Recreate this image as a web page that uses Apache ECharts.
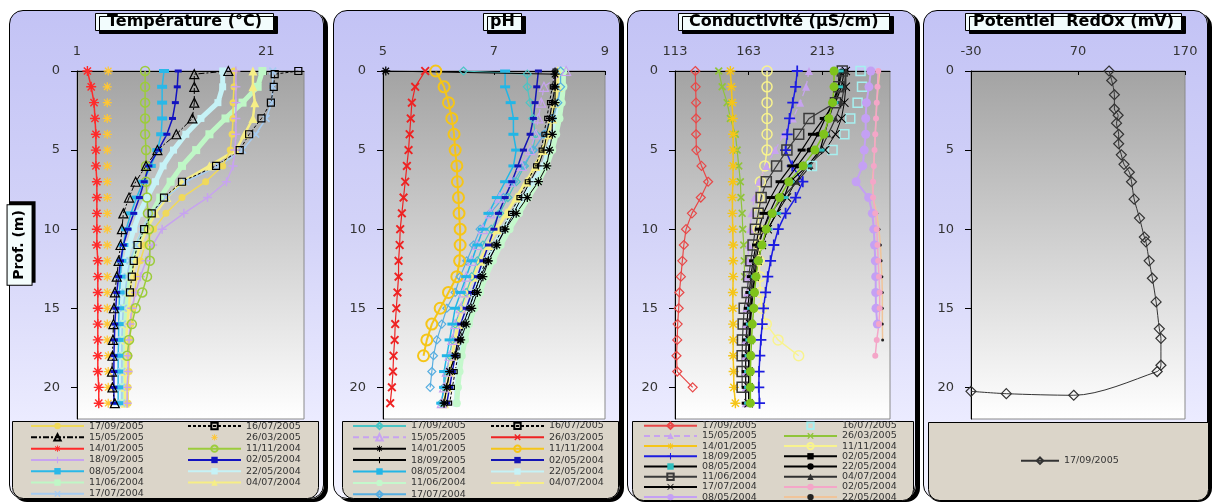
<!DOCTYPE html>
<html>
<head>
<meta charset="utf-8">
<script src="https://cdn.jsdelivr.net/npm/echarts@6/dist/echarts.min.js"></script>
<style>
body { margin: 0; width: 1213px; height: 504px; background: #fff; position: relative; overflow: hidden; }
.panel { position: absolute; top: 10px; height: 489px; box-sizing: border-box; border: 1px solid #000; border-radius: 14px;
  box-shadow: 4px 3px 0 #000; background: linear-gradient(180deg, #c3c3f5 0%, #d3d3f8 45%, #ececff 85%, #f3f3ff 100%); }
.chart { position: absolute; top: 0; height: 504px; }
</style>
</head>
<body>
<div class="panel" style="left:9px;width:315px"></div>
<div class="panel" style="left:333px;width:287px"></div>
<div class="panel" style="left:627px;width:289px"></div>
<div class="panel" style="left:923px;width:285px"></div>
<div id="c1" class="chart" style="left:0;width:330px"></div>
<div id="c2" class="chart" style="left:330px;width:295px"></div>
<div id="c3" class="chart" style="left:625px;width:295px"></div>
<div id="c4" class="chart" style="left:920px;width:293px"></div>
<script>
// depth grids (m)
var depths = [0,1,2,3,4,5,6,7,8,9,10,11,12,13,14,15,16,17,18,19,20,21];
var depthsSurf = [0,0.2,1,2,3,4,5,6,7,8,9,10,11,12,13,14,15,16,17,18,19,20,21];

// température (°C)
var t17092005 = [17.6,17.6,17.5,17.5,17.4,17.2,16.4,14.6,12.1,10.4,9.1,8.2,7.7,7.3,7.1,6.9,6.7,6.6,6.5,6.5,6.4,6.4];
var t16072005 = [24.4,21.9,21.8,21.5,20.5,19.2,18.2,15.7,12.1,10.2,8.9,8.1,7.4,7.0,6.8,6.6];
var t15052005 = [17.0,13.4,13.4,13.4,13.2,11.5,9.5,8.3,7.2,6.5,5.9,5.75,5.6,5.4,5.2,5.0,4.9,4.85,4.8,4.75,4.7,4.75,5.0];
var t26032005 = [4.3,4.2,4.2,4.2,4.2,4.2,4.2,4.2,4.2,4.2,4.2,4.2,4.2,4.2,4.2,4.2,4.2,4.2,4.3,4.3,4.3,4.3];
var t14012005 = [2.1,2.5,2.8,2.9,3.0,3.0,3.0,3.1,3.1,3.1,3.1,3.1,3.2,3.2,3.2,3.2,3.2,3.2,3.2,3.2,3.3,3.3];
var t11112004 = [8.2,8.2,8.2,8.2,8.2,8.3,8.3,8.3,8.4,8.5,8.6,8.7,8.7,8.4,7.9,7.2,6.8,6.5,6.3];
var t18092005 = [17.8,17.8,17.8,17.8,17.8,17.7,17.5,16.8,14.8,12.3,10.0,9.0,8.3,7.7,7.2,6.8,6.6,6.5,6.4,6.4,6.3,6.3];
var t02052004 = [11.7,11.6,11.4,11.1,10.5,9.6,8.6,8.1,7.6,7.0,6.4,5.9,5.6,5.4,5.2,5.1,5.0,4.95,4.9,4.9,4.9,4.9];
var t08052004 = [10.2,10.0,10.0,10.0,9.9,9.5,8.8,8.0,7.3,6.7,6.2,5.9,5.7,5.6,5.5,5.45,5.4,5.4,5.35,5.35,5.35,5.35];
var t22052004 = [16.4,16.4,15.9,14.1,12.5,11.2,10.1,9.3,8.4,7.6,7.0,6.5,6.2,6.0,5.9,5.8,5.8,5.75,5.75,5.75,5.75,5.75];
var t11062004 = [20.6,20.1,18.5,16.7,15.0,13.6,12.1,10.9,9.8,8.9,8.1,7.3,6.8,6.5,6.3,6.1,6.0,6.0,6.0,6.0,6.0,6.0];
var t04072004 = [19.6,19.6,19.8,19.6,18.7,17.8,15.0,12.1,10.5,9.3,8.4,7.7,7.2,6.8,6.6,6.5,6.3,6.2,6.2,6.1,6.1,6.1];
var t17072004 = [21.7,21.7,21.6,21.0,19.9,18.5,16.0,12.5,10.4,8.9,7.9,7.2,6.6,6.3,6.1,5.9,5.8,5.75,5.75,5.75,5.75,5.75];

// pH
var p17092005 = [6.45,7.6,7.6,7.65,7.7,7.75,7.7,7.55,7.4,7.25,7.1,6.95,6.8,6.7,6.6,6.5,6.4,6.3,6.25,6.2,6.15,6.1,6.05];
var p16072005 = [8.1,8.05,8.0,7.95,7.9,7.85,7.75,7.6,7.45,7.3,7.15,7.0,6.85,6.75,6.65,6.55,6.45,6.4,6.35,6.3,6.25,6.2];
var p15052005 = [8.3,7.9,7.85,7.8,7.75,7.65,7.5,7.3,7.1,6.93,6.8,6.7,6.6,6.5,6.45,6.4,6.3,6.25,6.2,6.15,6.1,6.06];
var p26032005 = [5.76,5.58,5.52,5.50,5.48,5.46,5.43,5.40,5.37,5.34,5.31,5.30,5.28,5.28,5.26,5.24,5.22,5.21,5.19,5.18,5.16,5.13];
var p14012005 = [5.05,8.1,8.1,8.1,8.05,8.05,8.0,7.95,7.8,7.6,7.4,7.2,7.05,6.9,6.8,6.7,6.6,6.5,6.4,6.3,6.2,6.15,6.1];
var p11112004 = [5.95,6.1,6.18,6.24,6.28,6.3,6.33,6.34,6.36,6.37,6.39,6.39,6.38,6.33,6.18,6.03,5.88,5.79,5.73];
var p18092005 = [8.1,8.1,8.05,8.0,7.95,7.9,7.8,7.65,7.5,7.35,7.2,7.05,6.9,6.75,6.65,6.55,6.45,6.35,6.3,6.2,6.15,6.1];
var p02052004 = [7.8,7.77,7.74,7.71,7.65,7.53,7.43,7.32,7.2,7.08,7.0,6.9,6.8,6.7,6.6,6.5,6.4,6.35,6.3,6.25,6.2,6.15];
var p08052004 = [7.2,7.2,7.3,7.35,7.35,7.4,7.35,7.2,7.05,6.9,6.8,6.7,6.6,6.5,6.4,6.3,6.25,6.2,6.15,6.1,6.1,6.05];
var p22052004 = [8.2,8.22,8.2,8.13,8.07,7.98,7.9,7.71,7.53,7.35,7.17,7.02,6.87,6.75,6.66,6.57,6.48,6.42,6.39,6.36,6.33,6.32];
var p11062004 = [8.25,8.25,8.22,8.18,8.12,8.05,7.95,7.8,7.62,7.45,7.28,7.12,6.98,6.85,6.75,6.65,6.55,6.48,6.42,6.38,6.35,6.33];
var p04072004 = [8.15,8.15,8.1,8.05,7.98,7.88,7.75,7.58,7.4,7.22,7.05,6.9,6.75,6.62,6.5,6.42,6.35,6.3,6.25,6.2,6.15,6.1];
var p17072004 = [8.2,8.2,8.15,8.05,7.9,7.71,7.53,7.35,7.17,6.93,6.75,6.63,6.51,6.39,6.3,6.15,6.06,5.97,5.91,5.88,5.85];

// conductivité (µS/cm)
var c17092005 = [126.8,127,127.3,127.3,127.3,127.5,131,135.5,130.5,124.5,120.5,119,118,117,116,115.5,114.8,114.5,114,114.5,125];
var c16072005 = [239,240,237,232,228,220,206];
var c15052005 = [204,202,198,193,187,181,175,170,167,165,164,163,162.5,162,162,161.5,161.5,161,161,161,161,161];
var c26032005 = [142.7,145,148.4,150.6,154,155.2,156.3,157.4,157.8,158.6,159,159.7,160,160.3];
var c14012005 = [150.6,151.3,151.8,152.2,152.5,152.5,152.5,152.3,152,152,152.2,152.5,152.5,152.5,152.3,152.3,152.5,152.5,152.5,152.8,153,154];
var c11112004 = [175.5,175.5,175.5,175.5,175.5,175.5,174,171,170,169.5,169.5,170,170,170.5,171,172,175,183,197];
var c18092005 = [196,194.9,193,190.8,189.2,188.1,192.6,199.8,194.9,188.1,183.1,180.1,177.9,176,174.5,173.1,172.2,171.3,170.6,170.1,169.9,170.4];
var c02052004 = [228,226,222,214,206,199,192,184,178,173,170,168,166,164.5,163.5,162.5,162,161.5,161,161,161,161];
var c08052004 = [224.5,224,221,217.5,214.5,211.5,203,191,187,182,176,172,169.5,167.5,166,165,164.2,163.8,163.3,163,163,163];
var c22052004 = [226,224,220,215,210,204,196,188,182,177,173,170,168,166.5,165.5,164.5,164,163.5,163,163,163,163];
var c11062004 = [226.6,224.3,222,204,197,189,182,175,171.5,169.5,167.6,166,164.5,163,162,160,159.3,158.8,158.6,158.6,158.6];
var c04072004 = [229,228,226,222,217,212,205,196,186,178,173,169,167,165.5,164.5,164,163.5,163,163,163,163,163];
var c17072004 = [229,229,228,226,222,215,203,195,189,182,176,172,169,167,165.5,164.5,164,163.5,163.2,163,163,163];
var c26032005b = [221,221,220,217.5,214,208,200,190.3,184,179,175,172,169.5,168,167,166.5,165.5,165,164.5,164.2,164.2,164.2];
var c02052004b = [251,250.5,250,249.5,249,248.5,248,247.5,247.5,249,250,250.5,251,251.5,252,252,251.5,250,249];
var c08052004b = [246,244.7,243,242.5,242.5,241.5,240.5,236,244.5,247,248,248.5,249,249.3,249.3,249.5,250.4];
var c22052004b = [252,251,250,249.5,249,248.5,248,247,247.5,250,251.5,252.5,253,253.5,253.8,253.8,253.8,254];

// potentiel redox (mV)
var redoxDepth = [0,0.6,1.5,2.4,2.8,3.3,4.0,4.6,5.3,5.9,6.4,7.0,8.1,9.3,10.5,10.8,12.0,13.1,14.6,16.3,16.9,18.6,19.0,20.5,20.4,20.25];
var redoxMv = [99,101.5,104,104,107.5,106,108,108,110.5,113,118,120,122.5,127.5,132,133.5,136.5,139.5,143,146,147.5,147.5,144,66,3,-30];

// axis ticks
var depthTicks = [0,5,10,15,20];
var tempTicks = [1,21];
var phTicks = [5,7,9];
var condTicks = [113,163,213];
var redoxTicks = [-30,70,170];

// legend columns (Excel fills rows left to right)
var legCol1 = ['17/09/2005','15/05/2005','14/01/2005','18/09/2005','08/05/2004','11/06/2004','17/07/2004'];
var legCol2 = ['16/07/2005','26/03/2005','11/11/2004','02/05/2004','22/05/2004','04/07/2004'];
var condCol1 = legCol1.concat(['08/05/2004 ']);
var condCol2 = legCol2.concat(['02/05/2004 ', '22/05/2004 ']);

var SYM_X = 'path://M0,1.5L1.5,0L5,3.5L8.5,0L10,1.5L6.5,5L10,8.5L8.5,10L5,6.5L1.5,10L0,8.5L3.5,5Z';
var SYM_XT = 'path://M0,0.8L0.8,0L5,4.2L9.2,0L10,0.8L5.8,5L10,9.2L9.2,10L5,5.8L0.8,10L0,9.2L4.2,5Z';
var SYM_PLUS = 'path://M4.2,0H5.8V4.2H10V5.8H5.8V10H4.2V5.8H0V4.2H4.2Z';
var SYM_STAR = 'path://M4.3,0H5.7V3.3L8.1,0.9L9.1,1.9L6.7,4.3H10V5.7H6.7L9.1,8.1L8.1,9.1L5.7,6.7V10H4.3V6.7L1.9,9.1L0.9,8.1L3.3,5.7H0V4.3H3.3L0.9,1.9L1.9,0.9L4.3,3.3Z';

var FONT = 'DejaVu Sans';

function prof(ds, vs) {
    return vs.map(function (v, i) { return [v, ds[i]]; });
}

// one depth profile as an ECharts line series
function ser(name, ds, vs, s) {
    return {
        type: 'line', name: name, data: prof(ds, vs),
        symbol: s.sym, symbolSize: s.size,
        smooth: s.smooth || false,
        lineStyle: { color: s.line || s.c, width: s.w == null ? 1.2 : s.w, type: s.dash || 'solid' },
        itemStyle: s.open
            ? { color: 'rgba(0,0,0,0)', borderColor: s.c, borderWidth: s.bw || 1.2 }
            : { color: s.c },
        emphasis: { disabled: true },
        z: s.z || 2
    };
}

function legendCol(names, left, top, lh, iw) {
    return {
        orient: 'vertical', left: left, top: top, padding: 0, itemGap: 0,
        itemWidth: iw || 53, itemHeight: 8, selectedMode: false,
        data: names,
        textStyle: { fontSize: 9.5, lineHeight: lh, color: '#333', fontFamily: FONT }
    };
}

function buildOption(o) {
    var yAxis = {
        type: 'value', inverse: true, min: 0, max: 22,
        axisLine: { show: true, onZero: false, lineStyle: { color: '#000' } },
        axisTick: { show: true, length: 6, customValues: depthTicks, lineStyle: { color: '#000' } },
        axisLabel: { customValues: depthTicks, margin: 17, fontSize: 13, color: '#333', fontFamily: FONT },
        splitLine: { show: false }
    };
    if (o.yName) {
        yAxis.name = o.yName;
        yAxis.nameLocation = 'middle';
        yAxis.nameRotate = 90;
        yAxis.nameGap = 42;
        yAxis.nameTextStyle = {
            fontSize: 14, fontWeight: 'bold', color: '#000', fontFamily: FONT,
            backgroundColor: '#f4fdfd', borderColor: '#000', borderWidth: 1, padding: [5, 5],
            shadowColor: '#000', shadowOffsetX: 3, shadowOffsetY: -3
        };
    }
    return {
        animation: false,
        title: {
            text: o.title, left: o.titleLeft, top: 13, padding: o.titlePad,
            backgroundColor: '#f2fcfd', borderColor: '#000', borderWidth: 1,
            shadowColor: '#000', shadowOffsetX: 4, shadowOffsetY: 3,
            textStyle: { fontSize: 16, fontWeight: 'bold', color: '#000', fontFamily: FONT }
        },
        grid: {
            left: o.gridLeft, top: 71, width: o.gridWidth, height: 348,
            outerBoundsMode: 'none',
            show: true, borderColor: '#8a8a8a', borderWidth: 1,
            backgroundColor: { type: 'linear', x: 0, y: 0, x2: 0, y2: 1,
                colorStops: [{ offset: 0, color: '#a3a3a3' }, { offset: 1, color: '#ffffff' }] }
        },
        xAxis: {
            type: 'value', position: 'top', min: o.min, max: o.max,
            axisLine: { show: true, onZero: false, lineStyle: { color: '#000' } },
            axisTick: { show: true, inside: true, length: 4, customValues: o.ticks, lineStyle: { color: '#000' } },
            axisLabel: { customValues: o.ticks, margin: 13, fontSize: 13, color: '#333', fontFamily: FONT },
            splitLine: { show: false }
        },
        yAxis: yAxis,
        legend: o.legend,
        graphic: [{
            type: 'rect', left: o.box[0], top: o.box[1], z: -1,
            shape: { width: o.box[2], height: o.box[3], r: [0, 0, 11, 11] },
            style: { fill: '#dbd5c9', stroke: '#000', lineWidth: 1 }
        }],
        series: o.series
    };
}

var tempSeries = [
    ser('22/05/2004', depths, t22052004, { c: '#c6f2f6', sym: 'rect', size: 7, w: 5 }),
    ser('11/06/2004', depths, t11062004, { c: '#bff7c6', sym: 'rect', size: 8, w: 5 }),
    ser('04/07/2004', depths, t04072004, { c: '#f6ee86', sym: 'triangle', size: 9, w: 2.5 }),
    ser('17/07/2004', depths, t17072004, { c: '#a6cbf0', sym: SYM_X, size: 8, w: 1.5 }),
    ser('17/09/2005', depths, t17092005, { c: '#f0d95a', sym: 'circle', size: 7, w: 1.5 }),
    ser('18/09/2005', depths, t18092005, { c: '#c7a3f0', sym: SYM_PLUS, size: 9, w: 1.5 }),
    ser('11/11/2004', depths, t11112004, { c: '#9ccc3c', sym: 'circle', size: 9, w: 1.5, open: true, bw: 1.5 }),
    ser('26/03/2005', depths, t26032005, { c: '#ffc733', sym: SYM_STAR, size: 9, w: 0 }),
    ser('14/01/2005', depths, t14012005, { c: '#ff2a2a', sym: SYM_STAR, size: 10, w: 1.5 }),
    ser('08/05/2004', depths, t08052004, { c: '#2ab8e8', sym: 'rect', size: [10, 4], w: 1.5 }),
    ser('02/05/2004', depths, t02052004, { c: '#1212c0', sym: 'rect', size: [7, 3], w: 1.5 }),
    ser('15/05/2005', depthsSurf, t15052005, { c: '#000', sym: 'triangle', size: 9, w: 1, dash: [6, 2, 2, 2], open: true }),
    ser('16/07/2005', depthsSurf, t16072005, { c: '#000', sym: 'rect', size: 7, w: 1, dash: [3, 2], open: true })
];

var phSeries = [
    ser('22/05/2004', depths, p22052004, { c: '#c6f2f6', sym: 'rect', size: 7, w: 5 }),
    ser('11/06/2004', depths, p11062004, { c: '#c4f8cc', sym: 'circle', size: 8, w: 5 }),
    ser('04/07/2004', depths, p04072004, { c: '#f6ee86', sym: 'triangle', size: 10, w: 3 }),
    ser('17/09/2005', depthsSurf, p17092005, { c: '#4cc4c4', sym: 'diamond', size: 8, w: 1.2, open: true }),
    ser('17/07/2004', depths, p17072004, { c: '#58aee0', sym: 'diamond', size: 8, w: 1.2, open: true }),
    ser('15/05/2005', depths, p15052005, { c: '#c7a3f0', sym: 'triangle', size: 9, w: 1.2, dash: [6, 4], open: true }),
    ser('11/11/2004', depths, p11112004, { c: '#f5c518', sym: 'circle', size: 11, w: 2, open: true, bw: 2 }),
    ser('26/03/2005', depths, p26032005, { c: '#ee2222', sym: SYM_X, size: 9, w: 1.2 }),
    ser('08/05/2004', depths, p08052004, { c: '#22b6e6', sym: 'rect', size: [10, 3], w: 1.5 }),
    ser('02/05/2004', depths, p02052004, { c: '#1414b4', sym: 'rect', size: [7, 3], w: 1.5 }),
    ser('16/07/2005', depths, p16072005, { c: '#000', sym: 'rect', size: 4, w: 1, dash: [3, 2], open: true }),
    ser('18/09/2005', depths, p18092005, { c: '#000', sym: SYM_PLUS, size: 7, w: 1 }),
    ser('14/01/2005', depthsSurf, p14012005, { c: '#000', sym: SYM_STAR, size: 9, w: 1 })
];

var condSeries = [
    ser('17/09/2005', depths, c17092005, { c: '#e84848', sym: 'diamond', size: 9, w: 1.2, open: true }),
    ser('16/07/2005', depths, c16072005, { c: '#a6f0f0', sym: 'rect', size: 9, w: 0, open: true, bw: 1.5 }),
    ser('26/03/2005', depths, c26032005, { c: '#90c43a', sym: SYM_X, size: 8, w: 1.2 }),
    ser('14/01/2005', depths, c14012005, { c: '#f5c518', sym: SYM_STAR, size: 10, w: 1.5 }),
    ser('11/11/2004', depths, c11112004, { c: '#f8f38e', sym: 'circle', size: 10, w: 1.5, open: true, bw: 1.5 }),
    ser('15/05/2005', depths, c15052005, { c: '#c7a3f0', sym: 'triangle', size: 8, w: 1.2, dash: [6, 4] }),
    ser('18/09/2005', depths, c18092005, { c: '#1c1ce0', sym: SYM_PLUS, size: 11, w: 1.5 }),
    ser('11/06/2004', depths, c11062004, { c: '#3a3a3a', sym: 'rect', size: 10, w: 1.2, open: true, bw: 1.5 }),
    ser('02/05/2004', depths, c02052004, { c: '#000', sym: 'rect', size: [8, 3], w: 1.2 }),
    ser('17/07/2004', depths, c17072004, { c: '#000', sym: SYM_XT, size: 9, w: 1 }),
    ser('04/07/2004', depths, c04072004, { c: '#303030', sym: 'triangle', size: 6, w: 1.2 }),
    ser('22/05/2004', depths, c22052004, { c: '#000', sym: 'circle', size: 5, w: 1.2 }),
    ser('08/05/2004', depths, c08052004, { c: '#2fbfbf', line: '#000', sym: 'rect', size: [9, 3], w: 1.2 }),
    ser('26/03/2005', depths, c26032005b, { c: '#7fc31c', sym: 'circle', size: 9, w: 1.5 }),
    ser('22/05/2004 ', depths, c22052004b, { c: '#222', line: '#f0c49a', sym: 'circle', size: 3, w: 1.5 }),
    ser('08/05/2004 ', depths, c08052004b, { c: '#c4a0f4', sym: 'circle', size: 9, w: 2 }),
    ser('02/05/2004 ', depths, c02052004b, { c: '#f4a6c8', sym: 'circle', size: 6, w: 1.5 })
];

var redoxSeries = [
    ser('17/09/2005', redoxDepth, redoxMv, { c: '#333', sym: 'diamond', size: 10, w: 1, open: true, smooth: 0.3 })
];

var options = {
    c1: buildOption({
        title: 'Température (°C)', titleLeft: 95, titlePad: [1, 12], yName: 'Prof. (m)',
        gridLeft: 77, gridWidth: 227, min: 1, max: 25, ticks: tempTicks,
        legend: [legendCol(legCol1, 30, 420.4, 11.3), legendCol(legCol2, 187, 420.4, 11.3)],
        box: [12, 421, 306, 77], series: tempSeries
    }),
    c2: buildOption({
        title: 'pH', titleLeft: 153, titlePad: [1, 7],
        gridLeft: 53, gridWidth: 222, min: 5, max: 9, ticks: phTicks,
        legend: [legendCol(legCol1, 22, 420.2, 11.4), legendCol(legCol2, 160, 420.2, 11.4)],
        box: [12, 421, 276, 77], series: phSeries
    }),
    c3: buildOption({
        title: 'Conductivité (µS/cm)', titleLeft: 53, titlePad: [1, 11],
        gridLeft: 50, gridWidth: 215, min: 113, max: 259, ticks: condTicks,
        legend: [legendCol(condCol1, 18, 420.6, 10.2), legendCol(condCol2, 158, 420.6, 10.2)],
        box: [7, 421, 281, 79], series: condSeries
    }),
    c4: buildOption({
        title: 'Potentiel  RedOx (mV)', titleLeft: 45, titlePad: [1, 8],
        gridLeft: 51, gridWidth: 214, min: -30, max: 170, ticks: redoxTicks,
        legend: [legendCol(['17/09/2005'], 100, 455, 11.3, 38)],
        box: [8, 422, 280, 78], series: redoxSeries
    })
};

Object.keys(options).forEach(function (id) {
    echarts.init(document.getElementById(id)).setOption(options[id]);
});
</script>
</body>
</html>
